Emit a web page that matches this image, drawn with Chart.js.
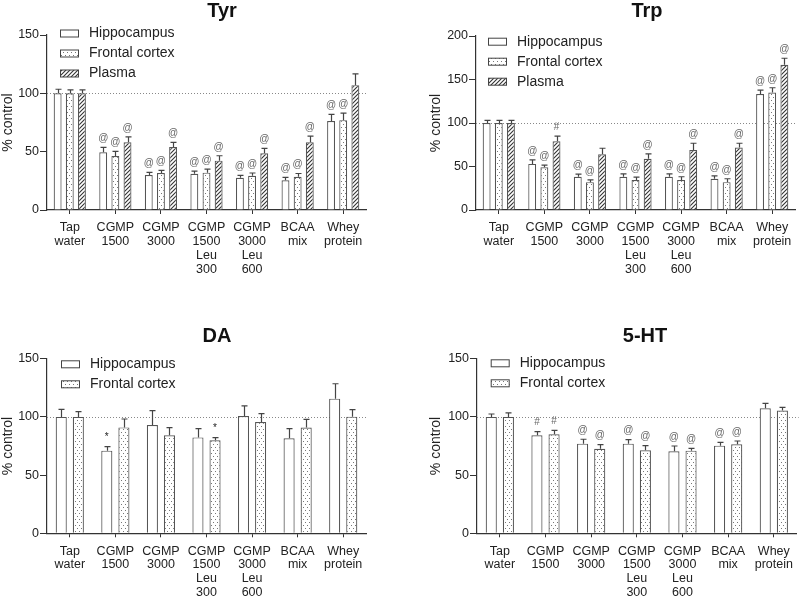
<!DOCTYPE html>
<html>
<head>
<meta charset="utf-8">
<script src="https://cdn.jsdelivr.net/npm/chart.js@4.4.0/dist/chart.umd.min.js"></script>
<style>
  body { margin: 0; background: #fff; }
  #wrap { position: relative; width: 800px; height: 598px; overflow: hidden; }
  canvas { position: absolute; }
</style>
</head>
<body>
<div id="wrap">
  <canvas id="tyr" width="400" height="299" style="left:0;top:0"></canvas>
  <canvas id="trp" width="400" height="299" style="left:400px;top:0"></canvas>
  <canvas id="da" width="400" height="299" style="left:0;top:299px"></canvas>
  <canvas id="ht" width="400" height="299" style="left:400px;top:299px"></canvas>
</div>
<script>
// categorias (multi-linea)
const categories = [
  ['Tap', 'water'], ['CGMP', '1500'], ['CGMP', '3000'],
  ['CGMP', '1500', 'Leu', '300'], ['CGMP', '3000', 'Leu', '600'],
  ['BCAA', 'mix'], ['Whey', 'protein']
];
const seriesNames = ['Hippocampus', 'Frontal cortex', 'Plasma'];
const yTitle = '% control';

// Tyr
const tyrHippo = [100, 49.5, 30, 31, 27.7, 25.4, 76.3];
const tyrHippoErr = [3.5, 4.2, 2.3, 2.3, 2, 2.6, 5.7];
const tyrHippoMarks = ['', '@', '@', '@', '@', '@', '@'];
const tyrFrontal = [100, 46.3, 31.7, 32, 29.3, 28.4, 77];
const tyrFrontalErr = [3, 4, 2.3, 3, 2.4, 2.9, 6.1];
const tyrFrontalMarks = ['', '@', '@', '@', '@', '@', '@'];
const tyrPlasma = [100, 58, 54, 42.3, 48.6, 58, 107];
const tyrPlasmaErr = [3, 4.6, 4, 4.2, 4.3, 5.4, 9.6];
const tyrPlasmaMarks = ['', '@', '@', '@', '@', '@', ''];

// Trp
const trpHippo = [100, 53, 38.2, 38.2, 38.2, 35.9, 133.2];
const trpHippoErr = [3, 4.6, 3, 3.4, 3.4, 3.4, 4.6];
const trpHippoMarks = ['', '@', '@', '@', '@', '@', '@'];
const trpFrontal = [100, 49.2, 32, 34.4, 34.4, 32, 135];
const trpFrontalErr = [3, 2.3, 2.7, 3.4, 3.8, 3.9, 5.5];
const trpFrontalMarks = ['', '@', '@', '@', '@', '@', '@'];
const trpPlasma = [100, 79, 64, 58.8, 69, 71.8, 167];
const trpPlasmaErr = [3, 6, 7, 5.7, 7.7, 4.9, 7.4];
const trpPlasmaMarks = ['', '#', '', '@', '@', '@', '@'];

// DA
const daHippo = [100, 71, 93, 82.4, 100.8, 81.6, 115.7];
const daHippoErr = [6.5, 3.4, 12.4, 7.6, 8.6, 8.4, 12.8];
const daHippoMarks = ['', '*', '', '', '', '', ''];
const daFrontal = [100, 91, 84.2, 79.9, 95.6, 90.8, 100.2];
const daFrontalErr = [4.5, 7.2, 6.6, 2.3, 7.2, 7.1, 6];
const daFrontalMarks = ['', '', '', '*', '', '', ''];

// 5-HT
const htHippo = [100, 84.2, 77, 77, 70.4, 75.3, 107.4];
const htHippoErr = [2.5, 3.1, 3.8, 3.4, 4.6, 2.9, 4.3];
const htHippoMarks = ['', '#', '@', '@', '@', '@', ''];
const htFrontal = [100, 85, 72.6, 71.3, 71, 76.4, 105.4];
const htFrontalErr = [3.4, 3.5, 3.6, 4, 2, 2.9, 2.8];
const htFrontalMarks = ['', '#', '@', '@', '@', '@', ''];

Chart.defaults.font.family = '"Liberation Sans", Arial, sans-serif';
Chart.defaults.color = '#222';

// patrones de relleno
function dotPattern() {
  const c = document.createElement('canvas');
  c.width = 4; c.height = 6;
  const g = c.getContext('2d');
  g.fillStyle = '#fff'; g.fillRect(0, 0, 4, 6);
  g.fillStyle = '#777';
  g.fillRect(1, 1, 1, 1);
  g.fillRect(3, 4, 1, 1);
  return g.createPattern(c, 'repeat');
}
function hatchPattern() {
  const s = 4;
  const c = document.createElement('canvas');
  c.width = s; c.height = s;
  const g = c.getContext('2d');
  g.fillStyle = '#fff'; g.fillRect(0, 0, s, s);
  g.strokeStyle = '#333'; g.lineWidth = 1.1;
  g.beginPath();
  g.moveTo(0, s); g.lineTo(s, 0);
  g.moveTo(-1, 1); g.lineTo(1, -1);
  g.moveTo(s - 1, s + 1); g.lineTo(s + 1, s - 1);
  g.stroke();
  return g.createPattern(c, 'repeat');
}
const fills = ['#fff', dotPattern(), hatchPattern()];

function serie(i, data, errors, marks) {
  return {
    label: seriesNames[i], data, errors, marks,
    backgroundColor: fills[i], borderColor: '#555', borderWidth: 1.2
  };
}

// linea de 100, barras de error, marcas, leyenda y titulo
const extras = {
  id: 'extras',
  beforeDatasetsDraw(chart) {
    const { ctx, chartArea, scales: { y } } = chart;
    const yy = Math.round(y.getPixelForValue(100)) + 0.5;
    ctx.save();
    ctx.strokeStyle = '#888'; ctx.lineWidth = 1; ctx.setLineDash([1, 2]);
    ctx.beginPath(); ctx.moveTo(chartArea.left, yy); ctx.lineTo(chartArea.right + 2, yy); ctx.stroke();
    ctx.restore();
  },
  afterDatasetsDraw(chart) {
    const { ctx, scales: { y } } = chart;
    ctx.save();
    chart.data.datasets.forEach((ds, i) => {
      const meta = chart.getDatasetMeta(i);
      meta.data.forEach((bar, j) => {
        const top = y.getPixelForValue(ds.data[j] + ds.errors[j]);
        const x = Math.round(bar.x) + 0.5;
        ctx.strokeStyle = '#444'; ctx.lineWidth = 1.2;
        ctx.beginPath();
        ctx.moveTo(x, bar.y); ctx.lineTo(x, top);
        ctx.moveTo(x - 3, top); ctx.lineTo(x + 3, top);
        ctx.stroke();
        if (ds.marks[j]) {
          ctx.fillStyle = ds.marks[j] === '*' ? '#222' : '#666';
          ctx.font = '10px "Liberation Sans", Arial, sans-serif';
          ctx.textAlign = 'center'; ctx.textBaseline = 'middle';
          ctx.fillText(ds.marks[j], bar.x, top - 9);
        }
      });
    });
    ctx.restore();
  },
  afterDraw(chart, args, o) {
    const ctx = chart.ctx;
    ctx.save();
    ctx.font = 'bold 20px "Liberation Sans", Arial, sans-serif';
    ctx.fillStyle = '#111'; ctx.textAlign = 'center'; ctx.textBaseline = 'alphabetic';
    ctx.fillText(o.title, o.titleX, o.titleY);
    ctx.font = '14px "Liberation Sans", Arial, sans-serif';
    chart.data.datasets.forEach((ds, i) => {
      const cy = o.legendY + i * 20;
      ctx.fillStyle = ds.backgroundColor;
      ctx.fillRect(o.legendX, cy - 3.5, 19, 7);
      ctx.strokeStyle = '#444'; ctx.lineWidth = 1;
      ctx.strokeRect(o.legendX + 0.5, cy - 3.5, 18, 7);
      ctx.fillStyle = '#222'; ctx.textAlign = 'left'; ctx.textBaseline = 'middle';
      ctx.fillText(ds.label, o.legendX + 29, cy);
    });
    ctx.restore();
  }
};

function makeChart(id, c) {
  return new Chart(document.getElementById(id), {
    type: 'bar',
    data: { labels: categories, datasets: c.datasets },
    options: {
      responsive: false, animation: false, devicePixelRatio: 1,
      layout: { padding: { left: c.padLeft, right: c.padRight, top: c.padTop, bottom: 0 } },
      datasets: { bar: { categoryPercentage: c.catPct, barPercentage: 0.65 } },
      scales: {
        x: {
          grid: { drawOnChartArea: false, offset: false, tickLength: 4, color: '#333' },
          border: { color: '#333', width: 1.2 },
          ticks: { font: { size: 12.5, lineHeight: 1.1 }, color: '#222', padding: 7, maxRotation: 0, autoSkip: false },
          afterFit(s) { s.height = c.xHeight; }
        },
        y: {
          min: 0, max: c.yMax,
          ticks: { stepSize: 50, font: { size: 12.5 }, color: '#222', padding: 1 },
          grid: { drawOnChartArea: false, tickLength: 7, color: '#333' },
          border: { color: '#333', width: 1.2 },
          title: { display: true, text: yTitle, font: { size: 14 }, color: '#222', padding: 0 },
          afterFit(s) { s.width = c.yWidth; }
        }
      },
      plugins: {
        legend: { display: false },
        tooltip: { enabled: false },
        extras: { title: c.title, titleX: c.titleX, titleY: c.titleY, legendX: c.legendX, legendY: c.legendY }
      }
    },
    plugins: [extras]
  });
}

makeChart('tyr', {
  title: 'Tyr', titleX: 222, titleY: 16.5, legendX: 60, legendY: 33.5,
  padLeft: 0, padRight: 34, padTop: 35, yWidth: 47, xHeight: 89, yMax: 150, catPct: 0.8,
  datasets: [
    serie(0, tyrHippo, tyrHippoErr, tyrHippoMarks),
    serie(1, tyrFrontal, tyrFrontalErr, tyrFrontalMarks),
    serie(2, tyrPlasma, tyrPlasmaErr, tyrPlasmaMarks)
  ]
});
makeChart('trp', {
  title: 'Trp', titleX: 247, titleY: 16.5, legendX: 88, legendY: 41.7,
  padLeft: 28, padRight: 5, padTop: 36, yWidth: 48, xHeight: 89, yMax: 200, catPct: 0.8,
  datasets: [
    serie(0, trpHippo, trpHippoErr, trpHippoMarks),
    serie(1, trpFrontal, trpFrontalErr, trpFrontalMarks),
    serie(2, trpPlasma, trpPlasmaErr, trpPlasmaMarks)
  ]
});
makeChart('da', {
  title: 'DA', titleX: 217, titleY: 42.7, legendX: 61, legendY: 65.3,
  padLeft: 0, padRight: 34, padTop: 59.7, yWidth: 47, xHeight: 64.7, yMax: 150, catPct: 0.75,
  datasets: [
    serie(0, daHippo, daHippoErr, daHippoMarks),
    serie(1, daFrontal, daFrontalErr, daFrontalMarks)
  ]
});
makeChart('ht', {
  title: '5-HT', titleX: 245, titleY: 42.7, legendX: 90.7, legendY: 64.3,
  padLeft: 28, padRight: 1, padTop: 59.7, yWidth: 49, xHeight: 64.7, yMax: 150, catPct: 0.75,
  datasets: [
    serie(0, htHippo, htHippoErr, htHippoMarks),
    serie(1, htFrontal, htFrontalErr, htFrontalMarks)
  ]
});
</script>
</body>
</html>
